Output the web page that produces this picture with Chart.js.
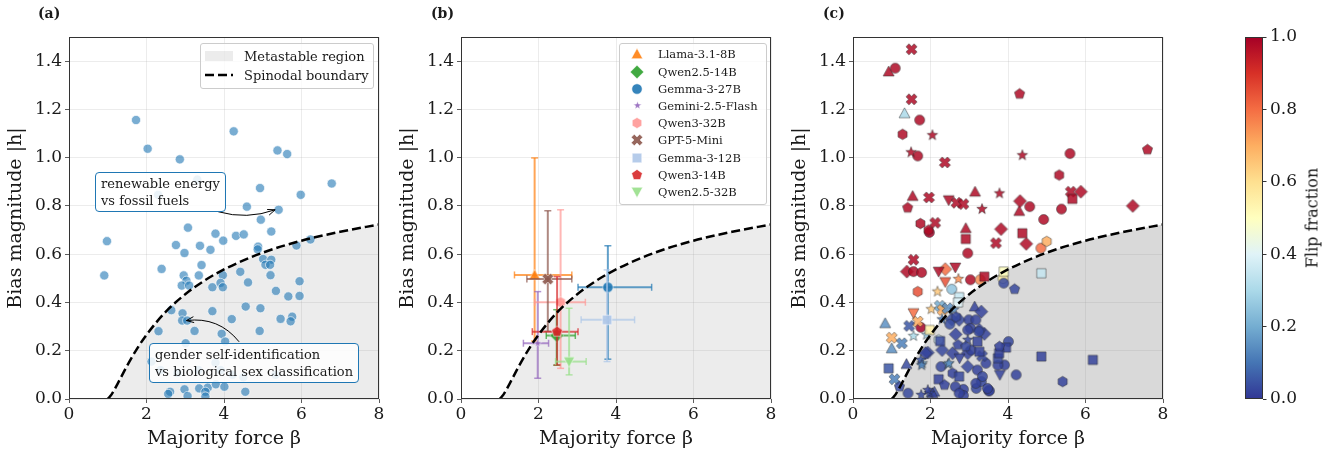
<!DOCTYPE html>
<html>
<head>
<meta charset="utf-8">
<script src="https://cdn.jsdelivr.net/npm/chart.js@4.4.1/dist/chart.umd.min.js"></script>
<style>
  body { margin: 0; background: #fff; font-family: 'DejaVu Serif', serif; color: #1a1a1a; }
  #wrap { position: relative; width: 1333px; height: 450px; overflow: hidden; }
  #wrap canvas.chart { position: absolute; top: 0; }
  .tag { position: absolute; top: 5px; font-weight: bold; font-size: 14px; }
  .note { position: absolute; border: 1.3px solid #1f77b4; border-radius: 4px; background: rgba(255,255,255,0.85);
          font-size: 13px; line-height: 17px; padding: 2px 5px; white-space: nowrap; }
  .legend { position: absolute; border: 1px solid #cccccc; border-radius: 3px; background: rgba(255,255,255,0.8); }
  .legend .key { position: absolute; }
  .legend .lab { position: absolute; white-space: nowrap; transform: translateY(-50%); }
  #cbLabel { position: absolute; left: 1312px; top: 218px; font-size: 16px; white-space: nowrap;
             transform: translate(-50%, -50%) rotate(-90deg); }
</style>
</head>
<body>
<div id="wrap">
  <canvas class="chart" id="topicsChart" width="400" height="450" style="left:0px"></canvas>
  <canvas class="chart" id="modelsChart" width="400" height="450" style="left:392px"></canvas>
  <canvas class="chart" id="flipChart" width="400" height="450" style="left:784px"></canvas>
  <canvas class="chart" id="colorbar" width="133" height="450" style="left:1200px"></canvas>

  <div class="tag" style="left:38px">(a)</div>
  <div class="tag" style="left:431px">(b)</div>
  <div class="tag" style="left:823px">(c)</div>

  <div class="note" style="left:95px; top:172px">renewable energy<br>vs fossil fuels</div>
  <div class="note" style="left:149px; top:343px">gender self-identification<br>vs biological sex classification</div>

  <div class="legend" id="legendA" style="left:200px; top:43px; width:172px; height:44px; font-size:13px"></div>
  <div class="legend" id="legendB" style="left:619px; top:43px; width:146px; height:160px; font-size:11.5px"></div>

  <div id="cbLabel">Flip fraction</div>
</div>

<script>
// ---------- data ----------
const xTicks = [0, 2, 4, 6, 8];
const hTicks = [0, 0.2, 0.4, 0.6, 0.8, 1.0, 1.2, 1.4];
const flipTicks = [0, 0.2, 0.4, 0.6, 0.8, 1.0];

// spinodal boundary h_s(beta)
const spinodalBeta = [1, 1.1, 1.25, 1.5, 1.75, 2, 2.5, 3, 3.5, 4, 5, 6, 7, 8];
const spinodalH = [0, 0.019, 0.062, 0.138, 0.207, 0.266, 0.362, 0.434, 0.491, 0.537, 0.606, 0.656, 0.693, 0.723];

// (a) one point per topic
const topicBeta = [1.73, 4.25, 2.03, 5.38, 5.63, 2.86, 3.31, 2.30, 6.78, 4.93, 5.98, 4.59, 5.41, 4.95, 5.22,
  3.07, 3.78, 3.98, 4.31, 4.51, 0.98, 2.76, 2.98, 3.38, 3.65, 4.88, 4.87, 5.87, 6.23, 5.01, 5.22, 5.07, 5.19,
  0.91, 2.39, 3.42, 2.96, 3.35, 3.97, 4.42, 5.20, 3.03, 2.91, 3.10, 3.70, 3.91, 3.97, 4.62, 5.95, 5.34, 5.66,
  5.95, 2.64, 2.93, 3.70, 4.56, 4.94, 2.92, 3.05, 4.20, 5.46, 5.76, 5.72, 2.31, 3.24, 4.92, 3.94, 4.03, 3.01,
  2.13, 2.36, 2.80, 3.34, 3.78, 3.91, 4.22, 4.50, 5.33, 2.61, 2.56, 2.98, 3.06, 3.36, 3.58, 3.52, 3.52, 3.79,
  4.01, 4.55];
const topicH = [1.156, 1.109, 1.037, 1.030, 1.015, 0.993, 0.909, 0.846, 0.893, 0.874, 0.846, 0.797, 0.784, 0.743, 0.694,
  0.710, 0.685, 0.656, 0.676, 0.682, 0.654, 0.638, 0.605, 0.635, 0.618, 0.631, 0.620, 0.636, 0.661, 0.580, 0.577, 0.556, 0.556,
  0.512, 0.539, 0.555, 0.512, 0.512, 0.513, 0.527, 0.513, 0.490, 0.470, 0.470, 0.463, 0.481, 0.463, 0.483, 0.488, 0.448, 0.425,
  0.427, 0.368, 0.355, 0.364, 0.383, 0.376, 0.325, 0.325, 0.331, 0.332, 0.341, 0.322, 0.281, 0.282, 0.282, 0.270, 0.238, 0.231,
  0.155, 0.120, 0.108, 0.120, 0.150, 0.120, 0.100, 0.090, 0.100, 0.030, 0.021, 0.040, 0.012, 0.044, 0.047, 0.030, 0.010, 0.061,
  0.051, 0.030];

// annotated topics: arrow tail (at the box) and tip, in data units
const noteTail = [[3.85, 0.776], [4.39, 0.237]];
const noteTip = [[5.32, 0.784], [3.03, 0.325]];
const noteBend = [-0.16, -0.28];

// (b) per-model means with spread
const modelNames = ['Llama-3.1-8B', 'Qwen2.5-14B', 'Gemma-3-27B', 'Gemini-2.5-Flash', 'Qwen3-32B',
  'GPT-5-Mini', 'Gemma-3-12B', 'Qwen3-14B', 'Qwen2.5-32B'];
const modelShapes = ['^', 'D', 'o', '*', 'h', 'X', 's', 'p', 'v'];
const modelColors = ['#ff7f0e', '#2ca02c', '#1f77b4', '#9467bd', '#ff9896', '#8c564b', '#aec7e8', '#d62728', '#98df8a'];
const modelBeta = [1.90, 2.47, 3.79, 1.98, 2.57, 2.24, 3.77, 2.48, 2.79];
const modelH = [0.514, 0.263, 0.463, 0.231, 0.401, 0.497, 0.328, 0.279, 0.155];
const betaLo = [1.38, 2.20, 3.02, 1.61, 1.90, 1.70, 3.10, 1.84, 2.44];
const betaHi = [2.86, 2.95, 4.92, 2.26, 3.21, 2.86, 4.48, 3.02, 3.23];
const hLo = [0.24, 0.14, 0.165, 0.086, 0.127, 0.28, 0.155, 0.141, 0.10];
const hHi = [0.999, 0.37, 0.635, 0.445, 0.784, 0.78, 0.535, 0.507, 0.376];

// (c) topic points per model: [beta, |h|, flip fraction]
const llamaPts = [[0.92, 1.357, 0.98], [1.33, 1.184, 0.3], [1.54, 0.841, 0.98], [3.15, 0.859, 0.98], [4.29, 0.779, 0.98],
  [2.91, 0.708, 0.98], [0.83, 0.314, 0.15], [1.0, 0.210, 0.15], [1.38, 0.145, 0.03], [3.14, 0.383, 0.02],
  [2.10, 0.03, 0.03], [2.05, 0.024, 0.02]];
const qwen25_14Pts = [[5.88, 0.859, 0.98], [4.31, 0.820, 0.98], [7.22, 0.80, 0.98], [1.39, 0.528, 0.98], [2.38, 0.538, 0.8],
  [4.47, 0.643, 0.98], [3.82, 0.704, 0.98], [3.31, 0.362, 0.02], [3.39, 0.27, 0.02], [2.96, 0.134, 0.03], [2.65, 0.268, 0.02],
  [2.30, 0.203, 0.03], [1.93, 0.192, 0.03], [1.87, 0.19, 0.02], [2.57, 0.19, 0.02], [2.74, 0.328, 0.03], [3.26, 0.286, 0.02],
  [2.96, 0.19, 0.02], [2.55, 0.33, 0.04]];
const gemma27Pts = [[1.09, 1.371, 0.98], [1.72, 1.156, 0.98], [1.67, 1.007, 0.98], [5.60, 1.017, 0.98], [4.56, 0.797, 0.98],
  [4.92, 0.744, 0.98], [5.38, 0.787, 0.98], [1.97, 0.690, 1.0], [2.96, 0.604, 0.98], [1.56, 0.528, 0.98], [1.77, 0.524, 0.98],
  [3.03, 0.494, 0.98], [3.28, 0.494, 0.75], [2.55, 0.455, 0.25], [1.75, 0.297, 1.0], [4.85, 0.625, 0.8], [3.87, 0.50, 0.55],
  [3.89, 0.48, 0.03], [2.99, 0.328, 0.02], [3.03, 0.293, 0.02], [3.25, 0.279, 0.03], [3.05, 0.203, 0.02], [3.50, 0.034, 0.02],
  [3.18, 0.044, 0.03], [2.85, 0.040, 0.02], [2.85, 0.015, 0.02], [3.31, 0.072, 0.03], [4.21, 0.10, 0.02], [3.91, 0.141, 0.02],
  [4.01, 0.238, 0.03], [3.74, 0.14, 0.02], [3.52, 0.034, 0.02], [1.42, 0.024, 0.03], [2.64, 0.051, 0.02], [2.74, 0.024, 0.02],
  [2.27, 0.134, 0.03], [3.17, 0.328, 0.02], [2.96, 0.286, 0.02], [3.43, 0.148, 0.02], [3.21, 0.12, 0.02], [3.34, 0.093, 0.03],
  [3.17, 0.065, 0.02], [3.47, 0.044, 0.02], [2.50, 0.31, 0.04]];
const geminiPts = [[2.05, 1.093, 0.98], [1.50, 1.022, 0.98], [4.37, 1.010, 0.98], [3.78, 0.852, 0.98], [3.33, 0.787, 0.98],
  [2.72, 0.497, 0.75], [2.18, 0.445, 0.65], [2.02, 0.372, 0.65], [1.56, 0.261, 0.3], [1.90, 0.266, 0.25], [2.45, 0.144, 0.15],
  [1.76, 0.017, 0.03], [1.97, 0.025, 0.03], [1.93, 0.037, 0.02], [1.79, 0.148, 0.2], [1.75, 0.162, 0.05], [1.77, 0.14, 0.12],
  [2.48, 0.148, 0.15], [2.96, 0.245, 0.03], [2.60, 0.37, 0.15], [2.30, 0.33, 0.1]];
const qwen3_32Pts = [[1.28, 1.097, 0.98], [5.32, 0.928, 0.98], [1.74, 0.727, 0.98], [1.95, 0.700, 0.98], [1.67, 0.445, 0.85],
  [2.21, 0.245, 0.35], [5.0, 0.653, 0.7], [2.57, 0.107, 0.02], [5.41, 0.072, 0.02], [2.66, 0.34, 0.03]];
const gpt5Pts = [[1.51, 1.449, 0.98], [1.51, 1.242, 0.98], [2.37, 0.980, 0.98], [5.62, 0.859, 0.98], [1.96, 0.835, 0.98],
  [2.67, 0.813, 0.98], [2.85, 0.808, 0.98], [2.12, 0.730, 0.98], [3.69, 0.646, 0.98], [1.56, 0.577, 0.98], [2.24, 0.386, 0.2],
  [2.31, 0.369, 0.7], [2.44, 0.376, 0.15], [1.67, 0.321, 0.7], [1.45, 0.303, 0.05], [1.0, 0.254, 0.7], [1.26, 0.231, 0.12],
  [1.07, 0.082, 0.12], [3.33, 0.178, 0.03]];
const gemma12Pts = [[5.66, 0.829, 0.98], [2.91, 0.663, 0.98], [3.39, 0.507, 0.98], [4.37, 0.687, 0.98], [2.74, 0.422, 0.35],
  [2.71, 0.40, 0.4], [1.98, 0.286, 0.55], [3.89, 0.528, 0.5], [4.86, 0.521, 0.35], [0.92, 0.127, 0.05], [3.21, 0.238, 0.02],
  [3.95, 0.213, 0.02], [3.74, 0.169, 0.03], [4.86, 0.176, 0.02], [6.19, 0.162, 0.02], [2.21, 0.082, 0.02], [2.74, 0.093, 0.03],
  [3.26, 0.196, 0.02], [3.77, 0.19, 0.02], [2.25, 0.24, 0.03]];
const qwen3_14Pts = [[4.30, 1.264, 0.98], [7.60, 1.033, 0.98], [1.41, 0.792, 0.98], [4.17, 0.455, 0.03], [1.20, 0.051, 0.03],
  [2.71, 0.224, 0.02], [3.78, 0.217, 0.02], [2.36, 0.058, 0.02], [2.91, 0.217, 0.03]];
const qwen25_32Pts = [[2.47, 0.824, 0.98], [2.21, 0.528, 0.98], [2.64, 0.545, 0.98], [2.38, 0.485, 0.85], [1.56, 0.356, 0.8],
  [2.75, 0.169, 0.02], [3.79, 0.10, 0.02]];
const flipPoints = [llamaPts, qwen25_14Pts, gemma27Pts, geminiPts, qwen3_32Pts, gpt5Pts, gemma12Pts, qwen3_14Pts, qwen25_32Pts];

// ---------- styling helpers ----------
const ink = '#1a1a1a';
const spine = '#333333';
const serif = "'DejaVu Serif', serif";
const gridColor = 'rgba(176,176,176,0.3)';
const rdylbu = ['#313695', '#4575b4', '#74add1', '#abd9e9', '#e0f3f8', '#ffffbf',
  '#fee090', '#fdae61', '#f46d43', '#d73027', '#a50026'];

function hexRgb(h) {
  return [parseInt(h.slice(1, 3), 16), parseInt(h.slice(3, 5), 16), parseInt(h.slice(5, 7), 16)];
}
function withAlpha(hex, a) {
  const c = hexRgb(hex);
  return `rgba(${c[0]},${c[1]},${c[2]},${a})`;
}
function flipColor(v, a) {
  const t = Math.min(Math.max(v, 0), 1) * 10;
  const i = Math.min(Math.floor(t), 9);
  const f = t - i;
  const c0 = hexRgb(rdylbu[i]), c1 = hexRgb(rdylbu[i + 1]);
  const c = c0.map((v0, k) => Math.round(v0 + (c1[k] - v0) * f));
  return `rgba(${c[0]},${c[1]},${c[2]},${a})`;
}

// marker shapes in the matplotlib style, drawn once into small canvases
function tracePath(ctx, shape, r) {
  const poly = pts => { ctx.moveTo(pts[0][0], pts[0][1]); pts.slice(1).forEach(p => ctx.lineTo(p[0], p[1])); ctx.closePath(); };
  const regular = (n, R) => Array.from({length: n}, (_, k) => {
    const a = -Math.PI / 2 + k * 2 * Math.PI / n;
    return [R * Math.cos(a), R * Math.sin(a)];
  });
  ctx.beginPath();
  switch (shape) {
    case 'o': ctx.arc(0, 0, r, 0, 2 * Math.PI); break;
    case '^': poly([[0, -r * 1.1], [r * 1.1, r * 0.9], [-r * 1.1, r * 0.9]]); break;
    case 'v': poly([[0, r * 1.1], [r * 1.1, -r * 0.9], [-r * 1.1, -r * 0.9]]); break;
    case 'D': { const R = r * 1.3; poly([[0, -R], [R, 0], [0, R], [-R, 0]]); break; }
    case 's': { const s = r * 0.92; poly([[-s, -s], [s, -s], [s, s], [-s, s]]); break; }
    case 'p': poly(regular(5, r * 1.08)); break;
    case 'h': poly(regular(6, r * 1.05)); break;
    case '*': {
      const R = r * 1.2, q = R * 0.42, pts = [];
      for (let k = 0; k < 10; k++) {
        const a = -Math.PI / 2 + k * Math.PI / 5, rr = k % 2 ? q : R;
        pts.push([rr * Math.cos(a), rr * Math.sin(a)]);
      }
      poly(pts); break;
    }
    case 'X': {
      const R = r * 1.15, w = R * 0.36;
      const plus = [[-w, -R], [w, -R], [w, -w], [R, -w], [R, w], [w, w], [w, R], [-w, R], [-w, w], [-R, w], [-R, -w], [-w, -w]];
      const c = Math.SQRT1_2;
      poly(plus.map(p => [c * (p[0] - p[1]), c * (p[0] + p[1])])); break;
    }
  }
}
const markerCache = {};
function marker(shape, r, fill, stroke, lw) {
  const key = [shape, r, fill, stroke, lw].join('|');
  if (markerCache[key]) return markerCache[key];
  const size = Math.ceil(r * 3 + 4);
  const cv = document.createElement('canvas');
  cv.width = cv.height = size;
  const ctx = cv.getContext('2d');
  ctx.translate(size / 2, size / 2);
  tracePath(ctx, shape, r);
  ctx.fillStyle = fill;
  ctx.fill();
  if (lw > 0) {
    ctx.strokeStyle = stroke;
    ctx.lineWidth = lw;
    ctx.lineJoin = 'round';
    ctx.stroke();
  }
  markerCache[key] = cv;
  return cv;
}

// full box around each plot area
const framePlugin = {
  id: 'frame',
  afterDatasetsDraw(chart) {
    const a = chart.chartArea, ctx = chart.ctx;
    ctx.save();
    ctx.strokeStyle = spine;
    ctx.lineWidth = 1;
    ctx.strokeRect(Math.round(a.left) + 0.5, Math.round(a.top) + 0.5,
      Math.round(a.right - a.left) - 1, Math.round(a.bottom - a.top) - 1);
    ctx.restore();
  }
};

function panelOptions() {
  const tickFont = {family: serif, size: 17};
  const titleFont = {family: serif, size: 19};
  return {
    responsive: false,
    animation: false,
    layout: {padding: {left: 0, right: 21, top: 37, bottom: 0}},
    plugins: {legend: {display: false}, tooltip: {enabled: false}},
    scales: {
      x: {
        type: 'linear', min: 0, max: 8,
        afterFit: s => { s.height = 51; },
        afterBuildTicks: s => { s.ticks = xTicks.map(v => ({value: v})); },
        ticks: {font: tickFont, color: ink, padding: 1, autoSkip: false, maxRotation: 0, callback: v => String(v)},
        grid: {color: gridColor, lineWidth: 0.8, tickColor: spine, tickLength: 4},
        border: {display: false},
        title: {display: true, text: 'Majority force β', font: titleFont, color: ink, padding: {top: 0, bottom: 0}}
      },
      y: {
        type: 'linear', min: 0, max: 1.5,
        afterFit: s => { s.width = 69; },
        afterBuildTicks: s => { s.ticks = hTicks.map(v => ({value: v})); },
        ticks: {font: tickFont, color: ink, padding: 3, autoSkip: false, callback: v => v.toFixed(1)},
        grid: {color: gridColor, lineWidth: 0.8, tickColor: spine, tickLength: 4},
        border: {display: false},
        title: {display: true, text: 'Bias magnitude |h|', font: titleFont, color: ink, padding: {top: 5, bottom: 0}}
      }
    }
  };
}

function spinodalSets(shade) {
  const pts = spinodalBeta.map((b, i) => ({x: b, y: spinodalH[i]}));
  return [
    {type: 'line', data: pts, borderColor: 'rgba(0,0,0,0)', pointRadius: 0, fill: 'origin',
     backgroundColor: shade, cubicInterpolationMode: 'monotone', order: 500},
    {type: 'line', data: pts, borderColor: '#000', borderWidth: 2.5, borderDash: [9, 4], pointRadius: 0,
     fill: false, cubicInterpolationMode: 'monotone', order: 0}
  ];
}

// curved arrows from the note boxes to their points
const noteArrows = {
  id: 'noteArrows',
  afterDatasetsDraw(chart) {
    const {ctx, scales: {x, y}} = chart;
    ctx.save();
    ctx.strokeStyle = '#000';
    ctx.lineWidth = 1;
    noteTail.forEach((t, i) => {
      const x0 = x.getPixelForValue(t[0]), y0 = y.getPixelForValue(t[1]);
      const x1 = x.getPixelForValue(noteTip[i][0]), y1 = y.getPixelForValue(noteTip[i][1]);
      const dx = x1 - x0, dy = y1 - y0;
      const cx = (x0 + x1) / 2 + noteBend[i] * dy, cy = (y0 + y1) / 2 - noteBend[i] * dx;
      ctx.beginPath();
      ctx.moveTo(x0, y0);
      ctx.quadraticCurveTo(cx, cy, x1, y1);
      ctx.stroke();
      const ang = Math.atan2(y1 - cy, x1 - cx);
      ctx.beginPath();
      ctx.moveTo(x1 - 8 * Math.cos(ang - 0.38), y1 - 8 * Math.sin(ang - 0.38));
      ctx.lineTo(x1, y1);
      ctx.lineTo(x1 - 8 * Math.cos(ang + 0.38), y1 - 8 * Math.sin(ang + 0.38));
      ctx.stroke();
    });
    ctx.restore();
  }
};

// ---------- (a) topics ----------
new Chart(document.getElementById('topicsChart'), {
  type: 'scatter',
  data: {
    datasets: [
      {data: topicBeta.map((b, i) => ({x: b, y: topicH[i]})), backgroundColor: 'rgba(31,119,180,0.6)',
       borderColor: 'rgba(255,255,255,0.9)', borderWidth: 0.7, pointRadius: 4.6, order: 10},
      ...spinodalSets('rgba(128,128,128,0.15)')
    ]
  },
  options: panelOptions(),
  plugins: [framePlugin, noteArrows]
});

// ---------- (b) model summaries ----------
const modelSets = [];
modelNames.forEach((name, i) => {
  const col = modelColors[i];
  const bar = withAlpha(col, 0.7);
  const base = 400 - i * 10;
  modelSets.push({type: 'line', data: [{x: betaLo[i], y: modelH[i]}, {x: betaHi[i], y: modelH[i]}],
    borderColor: bar, borderWidth: 2, pointStyle: 'line', pointRotation: 90, pointRadius: 3.5,
    pointBorderColor: bar, pointBorderWidth: 1.5, fill: false, order: base});
  modelSets.push({type: 'line', data: [{x: modelBeta[i], y: hLo[i]}, {x: modelBeta[i], y: hHi[i]}],
    borderColor: bar, borderWidth: 2, pointStyle: 'line', pointRotation: 0, pointRadius: 3.5,
    pointBorderColor: bar, pointBorderWidth: 1.5, fill: false, order: base - 1});
  const r = modelShapes[i] === '*' ? 3.6 : 5.2;
  modelSets.push({data: [{x: modelBeta[i], y: modelH[i]}], pointRadius: 5,
    pointStyle: marker(modelShapes[i], r, withAlpha(col, 0.9), 'rgba(255,255,255,0.9)', 0.6), order: base - 2});
});
new Chart(document.getElementById('modelsChart'), {
  type: 'scatter',
  data: {datasets: [...modelSets, ...spinodalSets('rgba(128,128,128,0.15)')]},
  options: panelOptions(),
  plugins: [framePlugin]
});

// ---------- (c) topics coloured by flip fraction ----------
const flipSets = flipPoints.map((pts, i) => ({
  data: pts.map(p => ({x: p[0], y: p[1], f: p[2]})),
  pointRadius: 5,
  pointStyle: c => marker(modelShapes[i], modelShapes[i] === '*' ? 4.6 : 5,
    flipColor(c.raw ? c.raw.f : 0, 0.85), 'rgba(40,40,40,0.8)', 0.6),
  order: 100 - i
}));
new Chart(document.getElementById('flipChart'), {
  type: 'scatter',
  data: {datasets: [...flipSets, ...spinodalSets('rgba(128,128,128,0.3)')]},
  options: panelOptions(),
  plugins: [framePlugin]
});

// ---------- colour bar ----------
const colorbarFill = {
  id: 'colorbarFill',
  beforeDatasetsDraw(chart) {
    const a = chart.chartArea, ctx = chart.ctx;
    const g = ctx.createLinearGradient(0, a.bottom, 0, a.top);
    rdylbu.forEach((c, i) => g.addColorStop(i / (rdylbu.length - 1), c));
    ctx.save();
    ctx.fillStyle = g;
    ctx.fillRect(a.left, a.top, a.right - a.left, a.bottom - a.top);
    ctx.restore();
  }
};
new Chart(document.getElementById('colorbar'), {
  type: 'scatter',
  data: {datasets: [{data: []}]},
  options: {
    responsive: false,
    animation: false,
    layout: {padding: {left: 45, right: 0, top: 37, bottom: 51}},
    plugins: {legend: {display: false}, tooltip: {enabled: false}},
    scales: {
      x: {display: false, min: 0, max: 1},
      y: {
        position: 'right', min: 0, max: 1,
        afterFit: s => { s.width = 70.5; },
        afterBuildTicks: s => { s.ticks = flipTicks.map(v => ({value: v})); },
        ticks: {font: {family: serif, size: 17}, color: ink, padding: 3.5, autoSkip: false, callback: v => v.toFixed(1)},
        grid: {drawOnChartArea: false, tickColor: spine, tickLength: 4},
        border: {display: false}
      }
    }
  },
  plugins: [colorbarFill, framePlugin]
});

// ---------- legends ----------
function legendKey(box, el, cx, cy) {
  el.className = 'key';
  el.style.left = (cx - el.width / 2) + 'px';
  el.style.top = (cy - el.height / 2) + 'px';
  box.appendChild(el);
}
function legendText(box, text, x, cy) {
  const s = document.createElement('span');
  s.className = 'lab';
  s.textContent = text;
  s.style.left = x + 'px';
  s.style.top = cy + 'px';
  box.appendChild(s);
}

const legendA = document.getElementById('legendA');
const patch = document.createElement('canvas');
patch.width = 28; patch.height = 10;
let pc = patch.getContext('2d');
pc.fillStyle = 'rgba(128,128,128,0.15)';
pc.fillRect(0, 0, 28, 10);
legendKey(legendA, patch, 18, 11.5);
legendText(legendA, 'Metastable region', 43, 12);
const dash = document.createElement('canvas');
dash.width = 30; dash.height = 6;
pc = dash.getContext('2d');
pc.strokeStyle = '#000'; pc.lineWidth = 2.5; pc.setLineDash([9, 4]);
pc.beginPath(); pc.moveTo(1, 3); pc.lineTo(29, 3); pc.stroke();
legendKey(legendA, dash, 18, 30.5);
legendText(legendA, 'Spinodal boundary', 43, 31);

const legendB = document.getElementById('legendB');
modelNames.forEach((name, i) => {
  const r = modelShapes[i] === '*' ? 3.6 : 5.2;
  const m = marker(modelShapes[i], r, withAlpha(modelColors[i], 0.9), 'rgba(255,255,255,0.9)', 0.6);
  const copy = document.createElement('canvas');
  copy.width = m.width; copy.height = m.height;
  copy.getContext('2d').drawImage(m, 0, 0);
  legendKey(legendB, copy, 17, 10.3 + 17.2 * i);
  legendText(legendB, name, 38, 10.3 + 17.2 * i);
});
</script>
</body>
</html>
